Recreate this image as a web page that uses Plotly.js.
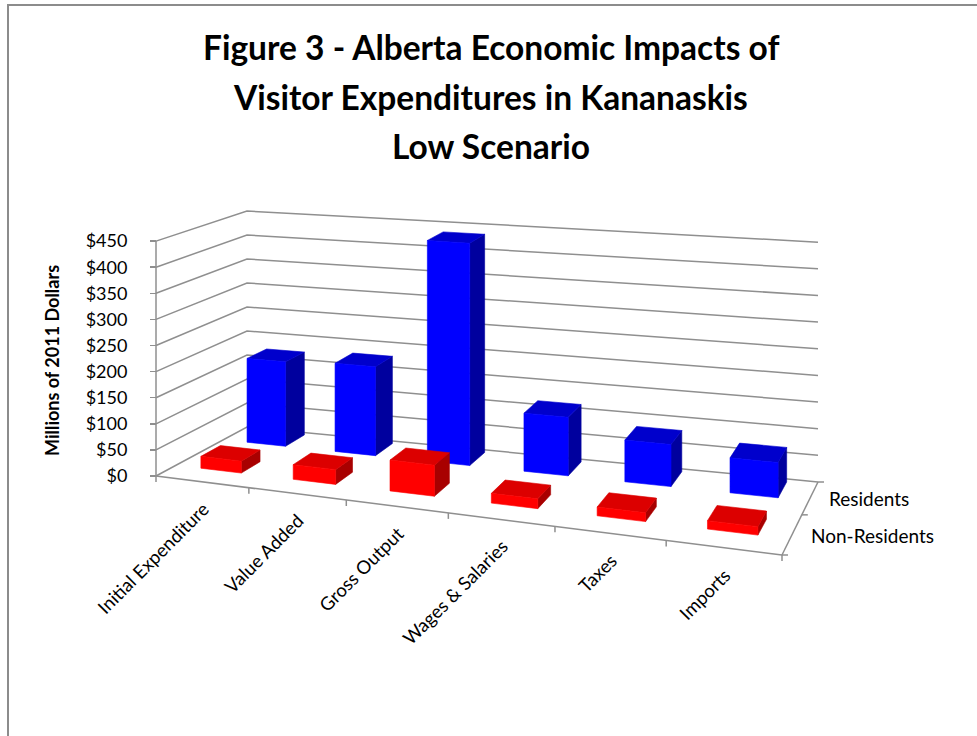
<!DOCTYPE html>
<html>
<head>
<meta charset="utf-8">
<script src="https://cdn.plot.ly/plotly-3.0.1.min.js"></script>
<style>html,body{margin:0;padding:0;background:#fff;}#chart{width:977px;height:736px;}</style>
</head>
<body>
<div id="chart"></div>
<script>
// ---- data ----
const categories = ["Initial Expenditure", "Value Added", "Gross Output", "Wages & Salaries", "Taxes", "Imports"];
const seriesNames = ["Non-Residents", "Residents"];
const residents = [170, 176, 433, 112, 79, 65];
const nonResidents = [23, 28, 58, 18, 16, 15];
const yTicks = [0, 50, 100, 150, 200, 250, 300, 350, 400, 450];
const yTickLabels = ["$0", "$50", "$100", "$150", "$200", "$250", "$300", "$350", "$400", "$450"];
const titleLines = ["Figure 3 - Alberta Economic Impacts of", "Visitor Expenditures in Kananaskis", "Low Scenario"];
const yTitle = "Millions of 2011 Dollars";

// ---- 3D-look projection (pixel geometry of the floor/walls) ----
const W = 977, H = 736;
const FL = [156, 476], FR = [782, 555], BL = [247, 427], BR = [818, 482];
const SFL = 0.522, SFR = 0.576, SBL = 0.48, SBR = 0.533;   // px per $ at the 4 floor corners
const yMax = 450;
function uOf(t) { return 0.868 * t + 0.132 * t * t; }
function toVal(py) { return (FL[1] - py) / SFL; }
function proj(t, d, v) {
  const u = uOf(t);
  const fx = FL[0] + (FR[0] - FL[0]) * u, fy = FL[1] + (FR[1] - FL[1]) * u;
  const bx = BL[0] + (BR[0] - BL[0]) * u, by = BL[1] + (BR[1] - BL[1]) * u;
  const x = fx + (bx - fx) * d, y0 = fy + (by - fy) * d;
  const sf = SFL + (SFR - SFL) * u, sb = SBL + (SBR - SBL) * u;
  const s = sf + (sb - sf) * d;
  return [x, toVal(y0 - s * v)];
}
const nCat = categories.length;
const rowCenter = [0.33, 0.85];     // depth of Non-Residents, Residents rows
const labelDepth = [0.27, 0.78];
const depthTicks = [0, 0.55, 1];
const halfW = 0.037, halfD = 0.11;

function poly(X, Y, pts) { pts.forEach(p => { X.push(p[0]); Y.push(p[1]); }); X.push(pts[0][0]); Y.push(pts[0][1]); X.push(null); Y.push(null); }

function barTraces(values, row, cFront, cTop, cSide) {
  const F = {x: [], y: []}, T = {x: [], y: []}, S = {x: [], y: []};
  values.forEach((v, c) => {
    const tc = (c + 0.5) / nCat, t0 = tc - halfW, t1 = tc + halfW;
    const d0 = rowCenter[row] - halfD, d1 = rowCenter[row] + halfD;
    poly(S.x, S.y, [proj(t1, d0, 0), proj(t1, d1, 0), proj(t1, d1, v), proj(t1, d0, v)]);
    poly(T.x, T.y, [proj(t0, d0, v), proj(t1, d0, v), proj(t1, d1, v), proj(t0, d1, v)]);
    poly(F.x, F.y, [proj(t0, d0, 0), proj(t1, d0, 0), proj(t1, d0, v), proj(t0, d0, v)]);
  });
  const mk = (o, col) => ({type: 'scatter', mode: 'lines', x: o.x, y: o.y, fill: 'toself', fillcolor: col,
    line: {color: col, width: 0.6}, hoverinfo: 'skip', showlegend: false});
  return [mk(S, cSide), mk(T, cTop), mk(F, cFront)];
}

// gridlines on the back wall and left wall
const grid = {x: [], y: []};
yTicks.forEach(v => {
  [proj(0, 0, v), proj(0, 1, v), proj(1, 1, v)].forEach(p => { grid.x.push(p[0]); grid.y.push(p[1]); });
  grid.x.push(null); grid.y.push(null);
});
// axis lines: front edge with category ticks, right depth edge with ticks, left value axis line
const axl = {x: [], y: []};
function seg(a, b) { axl.x.push(a[0], b[0], null); axl.y.push(a[1], b[1], null); }
seg(proj(0, 0, 0), proj(1, 0, 0));
seg(proj(1, 0, 0), proj(1, 1, 0));
seg(proj(0, 0, 0), proj(0, 0, yMax));
for (let k = 0; k <= nCat; k++) { const p = proj(k / nCat, 0, 0); seg(p, [p[0], p[1] - 6 / SFL]); }
depthTicks.forEach(d => { const p = proj(1, d, 0); seg(p, [p[0] + 6, p[1]]); });

const lineCol = '#8f8f8f';
const traces = [
  {type: 'scatter', mode: 'lines', x: grid.x, y: grid.y, line: {color: lineCol, width: 1.5}, hoverinfo: 'skip', showlegend: false},
  {type: 'scatter', mode: 'lines', x: axl.x, y: axl.y, line: {color: lineCol, width: 1.5}, hoverinfo: 'skip', showlegend: false},
  ...barTraces(residents, 1, '#0000ff', '#0000cc', '#00009e'),
  ...barTraces(nonResidents, 0, '#ff0000', '#dc0000', '#a80000')
];

const font = 'Lato, "Open Sans", sans-serif';
const annotations = [];
const titleY = [47, 97, 146];
titleLines.forEach((s, i) => annotations.push({text: '<b>' + s + '</b>', xref: 'paper', yref: 'paper', x: 491 / W, y: 1 - titleY[i] / H,
  xanchor: 'center', yanchor: 'middle', showarrow: false, font: {family: font, size: 33.5, color: '#000'}}));
annotations.push({text: '<b>' + yTitle + '</b>', xref: 'paper', yref: 'paper', x: 52 / W, y: 1 - 361 / H, textangle: -90,
  xanchor: 'center', yanchor: 'middle', showarrow: false, font: {family: font, size: 18, color: '#000'}});
categories.forEach((c, i) => {
  const p = proj((i + 0.5) / nCat, 0, 0);
  annotations.push({text: c, x: p[0], y: p[1], xref: 'x', yref: 'y', xanchor: 'right', yanchor: 'top', textangle: -45,
    xshift: 14, yshift: -13, showarrow: false, font: {family: font, size: 18.5, color: '#000'}});
});
seriesNames.forEach((s, r) => {
  const p = proj(1, labelDepth[r], 0);
  annotations.push({text: s, x: p[0], y: p[1], xref: 'x', yref: 'y', xanchor: 'left', yanchor: 'middle', xshift: 17,
    showarrow: false, font: {family: font, size: 19, color: '#000'}});
});

const layout = {
  width: W, height: H, paper_bgcolor: '#fff', plot_bgcolor: 'rgba(0,0,0,0)',
  margin: {l: 0, r: 0, t: 0, b: 0}, showlegend: false,
  xaxis: {range: [0, W], visible: false, fixedrange: true},
  yaxis: {range: [toVal(H), toVal(0)], anchor: 'free', position: FL[0] / W, tickmode: 'array', tickvals: yTicks, ticktext: yTickLabels,
    showgrid: false, zeroline: false, showline: false, ticks: 'outside', ticklen: 6, tickcolor: lineCol, tickwidth: 1.5,
    ticklabelstandoff: 19, tickfont: {family: font, size: 18, color: '#000'}, fixedrange: true},
  annotations: annotations,
  shapes: [{type: 'rect', xref: 'paper', yref: 'paper', x0: 8 / W, x1: 1.05, y0: -0.05, y1: 1 - 5 / H,
    line: {color: '#8c8c8c', width: 2}, fillcolor: 'rgba(0,0,0,0)', layer: 'below'}]
};

Plotly.newPlot('chart', traces, layout, {displayModeBar: false, staticPlot: true});
</script>
</body>
</html>
